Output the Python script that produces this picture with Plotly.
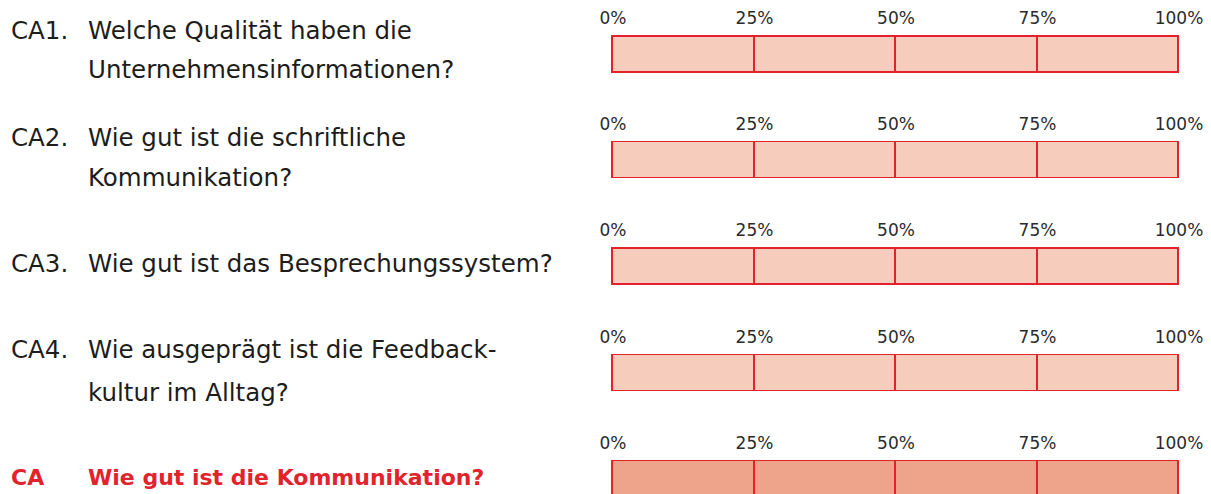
import plotly.graph_objects as go

# ---------------- data ----------------
codes = ["CA1.", "CA2.", "CA3.", "CA4.", "CA"]
question_lines = [
    ["Welche Qualität haben die", "Unternehmensinformationen?"],
    ["Wie gut ist die schriftliche", "Kommunikation?"],
    ["Wie gut ist das Besprechungssystem?"],
    ["Wie ausgeprägt ist die Feedback-", "kultur im Alltag?"],
    ["Wie gut ist die Kommunikation?"],
]
segment_values = [25, 25, 25, 25]          # quartile segments of each scale bar
tick_values = [0, 25, 50, 75, 100]
tick_labels = ["0%", "25%", "50%", "75%", "100%"]

# ---------------- layout constants ----------------
W, H = 1211, 494
FONT = "DejaVu Sans"
TEXT_COLOR = "#1d1d1b"
RED = "#e2232b"
LIGHT_FILL = "#f6cdbc"
DARK_FILL = "#eea38b"

bar_tops = [36.7, 142.3, 249.0, 355.3, 461.5]   # px
bar_h = 35.5
x_left, x_right = 613, 1179
code_x, text_x = 9, 86
YPAD = 0.06
XPAD = 0.6
line_centers = [[31, 69], [137, 177], [263], [349.5, 392], [477.5]]


def px(p):
    return p / W


def py(p):
    return 1 - p / H


fig = go.Figure()
n = len(codes)
unit = (x_right - x_left) / 100.0
for i in range(n):
    ax = "" if i == 0 else str(i + 1)
    fill = DARK_FILL if i == n - 1 else LIGHT_FILL
    for v in segment_values:
        fig.add_trace(go.Bar(
            x=[v], y=[0], orientation="h", width=1,
            marker=dict(color=fill, line=dict(color=RED, width=1.6)),
            xaxis="x" + ax, yaxis="y" + ax, showlegend=False, hoverinfo="skip",
        ))
    top = bar_tops[i] - YPAD * bar_h
    bot = bar_tops[i] + bar_h + YPAD * bar_h
    ytop = 0.5 + YPAD
    if bot <= H:
        ydom = [py(bot), py(top)]
        yrange = [-0.5 - YPAD, ytop]
    else:
        ydom = [0, py(top)]
        visible = H - top
        yrange = [ytop - visible / bar_h, ytop]
    fig.layout["xaxis" + ax] = dict(
        domain=[px(x_left - XPAD * unit), px(x_right + XPAD * unit)],
        range=[-XPAD, 100 + XPAD], side="top",
        anchor="y" + ax, tickvals=tick_values, ticktext=tick_labels,
        showgrid=False, zeroline=False, showline=False, ticks="",
        ticklabelstandoff=6, automargin=False,
        tickfont=dict(family=FONT, size=17, color="#2b2b2b"),
        fixedrange=True,
    )
    fig.layout["yaxis" + ax] = dict(
        domain=ydom, range=yrange, anchor="x" + ax, visible=False,
        automargin=False, fixedrange=True,
    )

annotations = []
for i in range(n):
    bold = i == n - 1
    color = RED if bold else TEXT_COLOR
    size = 22 if bold else 24.5
    weight = "bold" if bold else "normal"
    annotations.append(dict(
        text=codes[i], x=px(code_x), y=py(line_centers[i][0]), xref="paper", yref="paper",
        xanchor="left", yanchor="middle", showarrow=False,
        font=dict(family=FONT, size=size, color=color, weight=weight),
    ))
    for j, line in enumerate(question_lines[i]):
        annotations.append(dict(
            text=line, x=px(text_x), y=py(line_centers[i][j]), xref="paper", yref="paper",
            xanchor="left", yanchor="middle", showarrow=False,
            font=dict(family=FONT, size=size, color=color, weight=weight),
        ))

fig.update_layout(
    barmode="stack", width=W, height=H,
    margin=dict(l=0, r=0, t=0, b=0, autoexpand=False),
    paper_bgcolor="white", plot_bgcolor="rgba(0,0,0,0)",
    annotations=annotations, bargap=0,
)

fig.write_html(
    "out.html",
    config={"displayModeBar": False, "responsive": False},
    post_script="document.body.style.margin='0';document.body.style.overflow='hidden';",
)
